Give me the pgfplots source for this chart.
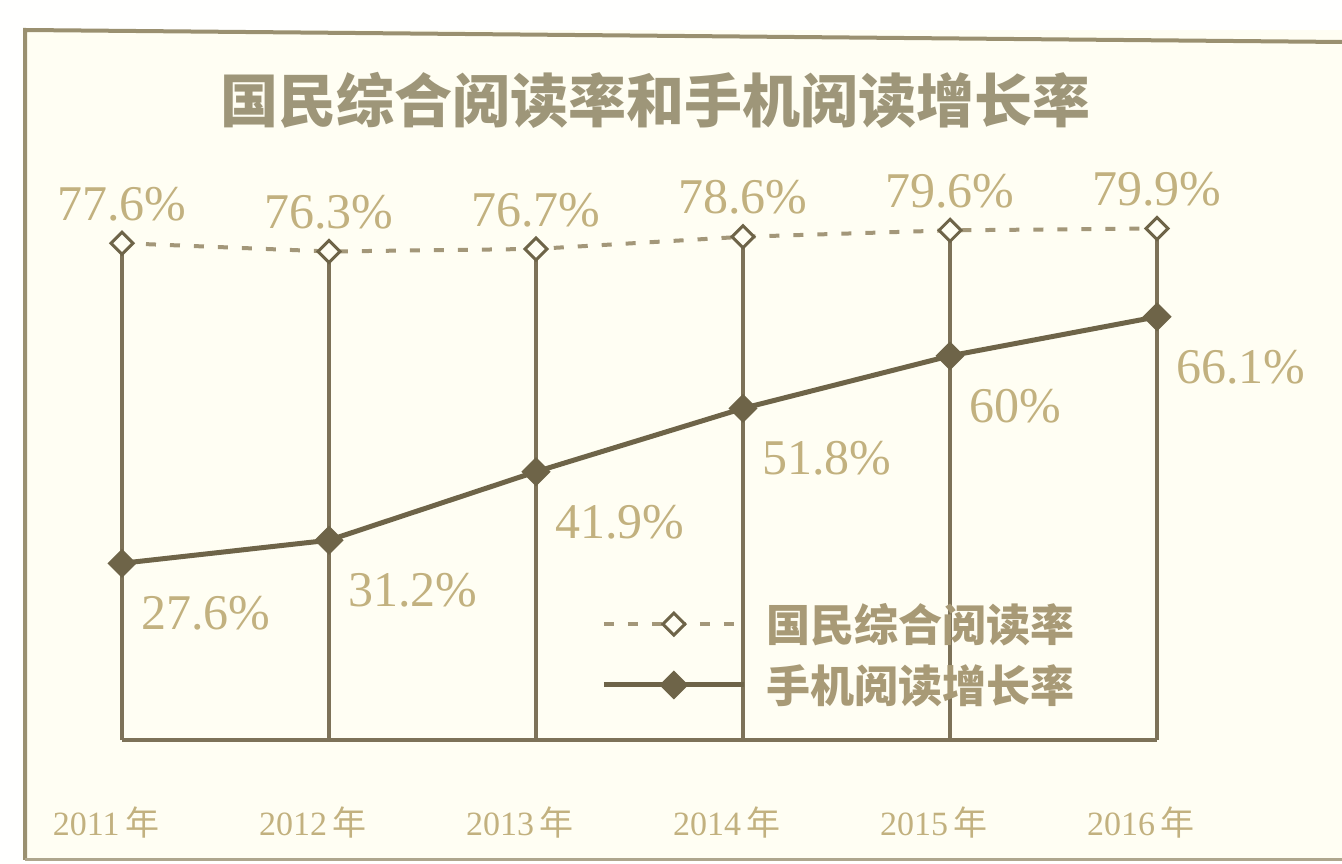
\documentclass[border=0pt]{standalone}
\usepackage{pgfplots}
\pgfplotsset{compat=1.18}
\usepackage{pgfplotstable}
\usepackage{fontspec}
\setmainfont{Liberation Serif}
\newfontfamily\cjk{Noto Sans CJK SC}

\definecolor{paper}{HTML}{FFFEF3}
\definecolor{edge}{HTML}{9A9070}
\definecolor{ink}{HTML}{6E6448}
\definecolor{stem}{HTML}{7D7258}
\definecolor{dashc}{HTML}{A39779}
\definecolor{numtxt}{HTML}{C2B17F}
\definecolor{titletxt}{HTML}{9E9679}
\definecolor{legtxt}{HTML}{A89A76}

% square-ish diamond, as in the scan
\pgfdeclareplotmark{sqdiamond*}{%
  \pgfpathmoveto{\pgfqpoint{0pt}{\pgfplotmarksize}}%
  \pgfpathlineto{\pgfqpoint{\pgfplotmarksize}{0pt}}%
  \pgfpathlineto{\pgfqpoint{0pt}{-\pgfplotmarksize}}%
  \pgfpathlineto{\pgfqpoint{-\pgfplotmarksize}{0pt}}%
  \pgfpathclose
  \pgfusepathqfillstroke}

% 国民综合阅读率
\pgfplotstableread{
x    y    lab
2011 77.6 77.6
2012 76.3 76.3
2013 76.7 76.7
2014 78.6 78.6
2015 79.6 79.6
2016 79.9 79.9
}\readrate

% 手机阅读增长率
\pgfplotstableread{
x    y    lab
2011 27.6 27.6
2012 31.2 31.2
2013 41.9 41.9
2014 51.8 51.8
2015 60   60
2016 66.1 66.1
}\mobilerate

\begin{document}
\begin{tikzpicture}
\fill[white!96!paper] (0,0) rectangle (671bp,432bp);
\useasboundingbox (0,0) rectangle (671bp,432bp);
\fill[paper] (12.5bp,2bp) rectangle (671bp,417bp);
\draw[edge, line width=2bp] (12.5bp,2bp) -- (12.5bp,417bp) -- (671bp,411bp);
\draw[edge!80!white, line width=1.5bp] (12.5bp,2bp) -- (671bp,2bp);

\node[font=\cjk\bfseries\fontsize{29bp}{32bp}\selectfont, text=titletxt]
  at (327.5bp,382bp) {国民综合阅读率和手机阅读增长率};

\begin{axis}[
  at={(61bp,62bp)}, anchor=south west,
  scale only axis, width=517.5bp, height=262.5bp,
  xmin=2011, xmax=2016, ymin=0, ymax=82,
  clip=false,
  axis x line=bottom, axis y line=none,
  x axis line style={-, draw=stem, line width=2bp},
  xtick={2011,2012,2013,2014,2015,2016},
  xticklabels={{2011\,{\cjk 年}},{2012\,{\cjk 年}},{2013\,{\cjk 年}},{2014\,{\cjk 年}},{2015\,{\cjk 年}},{2016\,{\cjk 年}}},
  major tick length=0pt,
  xticklabel style={font=\fontsize{17bp}{19bp}\selectfont, text=numtxt, yshift=-30bp, xshift=-8bp},
  legend style={at={(rel axis cs:0.457,0.276)}, anchor=north west, draw=none, fill=none,
    font=\cjk\bfseries\fontsize{22bp}{24bp}\selectfont, text=legtxt,
    row sep=6bp, column sep=8bp},
  legend cell align=left,
  legend image code/.code={\draw[#1, mark repeat=2, mark phase=2]
    plot coordinates {(0bp,0bp) (35bp,0bp) (70bp,0bp)};},
]
\addplot[ycomb, draw=stem, line width=2bp, forget plot]
  table[x=x, y=y] {\readrate};

\addplot[draw=dashc, line width=2bp, dash pattern=on 5bp off 7bp,
  mark=sqdiamond*, mark size=5.5bp,
  mark options={solid, fill=paper, draw=ink, line width=1.5bp},
  point meta=explicit symbolic,
  nodes near coords={\pgfplotspointmeta\%},
  every node near coord/.append style={anchor=south, yshift=7bp,
    font=\fontsize{25bp}{27bp}\selectfont, text=numtxt}]
  table[x=x, y=y, meta=lab] {\readrate};
\addlegendentry{国民综合阅读率}

\addplot[draw=ink, line width=2.5bp,
  mark=sqdiamond*, mark size=5.5bp, mark options={fill=ink, draw=ink},
  point meta=explicit symbolic,
  nodes near coords={\pgfplotspointmeta\%},
  every node near coord/.append style={anchor=north west, xshift=5bp, yshift=-12bp,
    font=\fontsize{25bp}{27bp}\selectfont, text=numtxt}]
  table[x=x, y=y, meta=lab] {\mobilerate};
\addlegendentry{手机阅读增长率}
\end{axis}
\end{tikzpicture}
\end{document}
